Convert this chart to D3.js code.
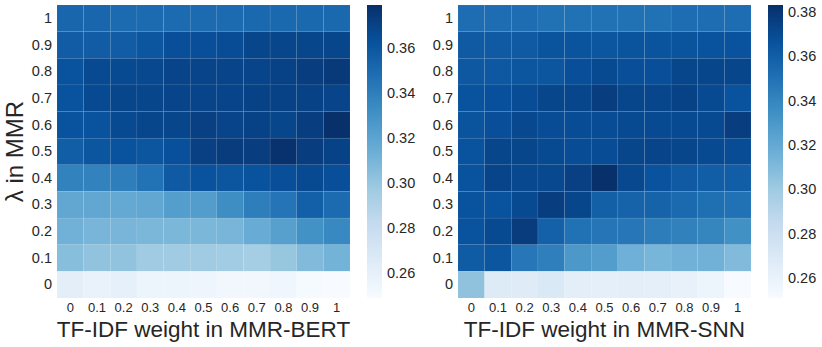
<!DOCTYPE html>
<html>
<head>
<meta charset="utf-8">
<script src="https://cdn.jsdelivr.net/npm/d3@7"></script>
<style>
  body { margin: 0; background: #fff; }
  svg { display: block; }
  text { font-family: "Liberation Sans", Arial, sans-serif; fill: #262626; }
</style>
</head>
<body>
<svg id="chart" width="822" height="347"></svg>
<script>
// x categories (TF-IDF weight) and y categories (lambda), y listed top to bottom
const xLabels = ["0","0.1","0.2","0.3","0.4","0.5","0.6","0.7","0.8","0.9","1"];
const yLabels = ["1","0.9","0.8","0.7","0.6","0.5","0.4","0.3","0.2","0.1","0"];

// MMR-BERT values, rows lambda = 1 ... 0, columns TF-IDF weight 0 ... 1
const bertValues = [
  [0.352,0.352,0.350,0.350,0.350,0.350,0.350,0.351,0.351,0.351,0.351],
  [0.357,0.357,0.357,0.360,0.364,0.364,0.365,0.368,0.368,0.368,0.368],
  [0.362,0.366,0.366,0.367,0.369,0.369,0.369,0.369,0.370,0.372,0.374],
  [0.362,0.366,0.368,0.368,0.369,0.369,0.369,0.370,0.370,0.370,0.369],
  [0.362,0.362,0.366,0.368,0.368,0.371,0.369,0.370,0.368,0.372,0.379],
  [0.356,0.360,0.362,0.360,0.363,0.371,0.373,0.372,0.378,0.372,0.370],
  [0.338,0.338,0.340,0.346,0.358,0.362,0.360,0.362,0.364,0.366,0.364],
  [0.318,0.318,0.317,0.318,0.323,0.324,0.332,0.340,0.345,0.355,0.350],
  [0.312,0.310,0.310,0.309,0.309,0.309,0.310,0.315,0.322,0.330,0.335],
  [0.305,0.302,0.302,0.297,0.297,0.297,0.296,0.295,0.300,0.307,0.311],
  [0.262,0.258,0.260,0.256,0.256,0.255,0.253,0.253,0.254,0.250,0.249]
];

// MMR-SNN values, rows lambda = 1 ... 0, columns TF-IDF weight 0 ... 1
const snnValues = [
  [0.352,0.352,0.352,0.350,0.350,0.350,0.350,0.350,0.352,0.352,0.352],
  [0.362,0.362,0.362,0.365,0.365,0.364,0.365,0.365,0.365,0.366,0.366],
  [0.363,0.363,0.364,0.364,0.368,0.370,0.368,0.368,0.372,0.372,0.372],
  [0.366,0.367,0.369,0.372,0.372,0.376,0.372,0.372,0.374,0.370,0.366],
  [0.365,0.368,0.371,0.369,0.369,0.369,0.370,0.370,0.370,0.370,0.376],
  [0.366,0.372,0.372,0.370,0.369,0.369,0.372,0.373,0.372,0.370,0.369],
  [0.366,0.373,0.371,0.371,0.375,0.383,0.371,0.366,0.362,0.360,0.360],
  [0.366,0.366,0.370,0.376,0.372,0.359,0.357,0.357,0.354,0.351,0.350],
  [0.366,0.370,0.377,0.358,0.350,0.348,0.347,0.344,0.342,0.340,0.334],
  [0.361,0.364,0.347,0.343,0.330,0.327,0.316,0.313,0.315,0.315,0.310],
  [0.305,0.268,0.267,0.270,0.264,0.263,0.264,0.263,0.261,0.258,0.251]
];

const bertTicks = [0.26,0.28,0.30,0.32,0.34,0.36];
const snnTicks = [0.26,0.28,0.30,0.32,0.34,0.36,0.38];

// "Blues" colormap stops (piecewise linear, like matplotlib)
const bluesStops = ["#f7fbff","#deebf7","#c6dbef","#9ecae1","#6baed6","#4292c6","#2171b5","#08519c","#08306b"];
const blues = d3.piecewise(d3.interpolateRgb, bluesStops);

const svg = d3.select("#chart");
const tickFont = "14.5px";
const xTickFont = "13px";

function heatmap(opts) {
  const { values, left, title, cbLeft, ticks, showYTitle } = opts;
  const top = 5, size = 293;
  const x = d3.scaleBand().domain(xLabels).range([left, left + size]);
  const y = d3.scaleBand().domain(yLabels).range([top, top + size]);
  const flat = values.flat();
  const ext = d3.extent(flat);
  const color = d3.scaleSequential(blues).domain(ext);
  const g = svg.append("g");

  const cells = [];
  values.forEach((row, i) => row.forEach((v, j) => cells.push({ xi: xLabels[j], yi: yLabels[i], v })));
  g.selectAll("rect.cell").data(cells).join("rect")
    .attr("class", "cell")
    .attr("x", d => x(d.xi)).attr("y", d => y(d.yi))
    .attr("width", x.bandwidth()).attr("height", y.bandwidth())
    .attr("fill", d => color(d.v))
    .attr("stroke", "rgba(255,255,255,0.08)")
    .attr("stroke-width", 0.6);

  // axes
  const xAxis = g.append("g").attr("transform", `translate(0,${top + size})`)
    .call(d3.axisBottom(x).tickSize(0).tickPadding(5));
  xAxis.select(".domain").remove();
  xAxis.selectAll("text").style("font-size", xTickFont).attr("fill", "#262626");

  const yAxis = g.append("g").attr("transform", `translate(${left},0)`)
    .call(d3.axisLeft(y).tickSize(0).tickPadding(5));
  yAxis.select(".domain").remove();
  yAxis.selectAll("text").style("font-size", tickFont).attr("fill", "#262626");

  g.append("text")
    .attr("x", left + size / 2).attr("y", 337)
    .attr("text-anchor", "middle")
    .style("font-size", "22.5px")
    .text(title);

  if (showYTitle) {
    g.append("text")
      .attr("transform", `translate(23,${top + size / 2}) rotate(-90)`)
      .attr("text-anchor", "middle")
      .style("font-size", "24px")
      .text("λ in MMR");
  }

  // colorbar
  const cbW = 15;
  const cy = d3.scaleLinear().domain(ext).range([top + size, top]);
  const gid = "grad" + cbLeft;
  const defs = svg.append("defs");
  const grad = defs.append("linearGradient").attr("id", gid)
    .attr("x1", 0).attr("y1", 1).attr("x2", 0).attr("y2", 0);
  d3.range(0, 1.0001, 0.125).forEach(t => {
    grad.append("stop").attr("offset", t).attr("stop-color", blues(t));
  });
  g.append("rect").attr("x", cbLeft).attr("y", top).attr("width", cbW).attr("height", size)
    .attr("fill", `url(#${gid})`);
  const cAxis = g.append("g").attr("transform", `translate(${cbLeft + cbW},0)`)
    .call(d3.axisRight(cy).tickValues(ticks).tickFormat(d3.format(".2f")).tickSize(0).tickPadding(5));
  cAxis.select(".domain").remove();
  cAxis.selectAll("text").style("font-size", tickFont).attr("fill", "#262626");
}

heatmap({ values: bertValues, left: 57, title: "TF-IDF weight in MMR-BERT", cbLeft: 367, ticks: bertTicks, showYTitle: true });
heatmap({ values: snnValues, left: 458, title: "TF-IDF weight in MMR-SNN", cbLeft: 768, ticks: snnTicks, showYTitle: false });
</script>
</body>
</html>
